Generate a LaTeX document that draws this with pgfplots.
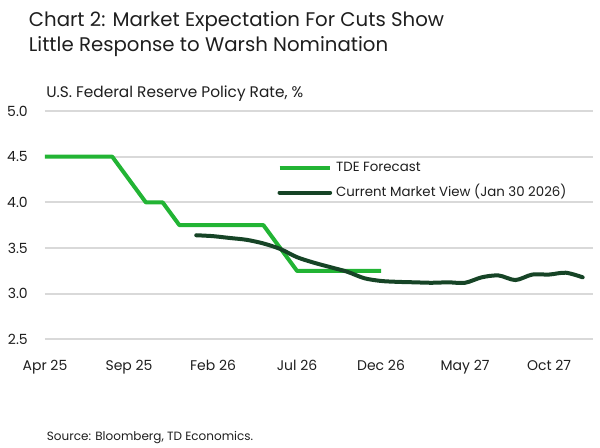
\documentclass[border=0pt]{standalone}
\usepackage{pgfplots}
\pgfplotsset{compat=1.18}
\usepackage{fontspec}
\setmainfont{Poppins}
\definecolor{tdgreen}{RGB}{34,180,52}
\definecolor{tddark}{RGB}{22,68,38}
\definecolor{gridgray}{RGB}{217,217,217}
\definecolor{txt}{RGB}{30,30,30}
\begin{document}
\begin{tikzpicture}
\useasboundingbox (0,0) rectangle (450pt,336pt);
\begin{axis}[
  at={(33.75pt,81.4pt)}, anchor=south west,
  scale only axis, width=410.8pt, height=171.4pt,
  xmin=0, xmax=32.6, ymin=2.5, ymax=5.0,
  axis line style={draw=none},
  major tick length=0pt,
  xtick={0,5,10,15,20,25,30},
  xticklabels={Apr 25,Sep 25,Feb 26,Jul 26,Dec 26,May 27,Oct 27},
  ytick={2.5,3.0,3.5,4.0,4.5,5.0},
  yticklabel={\pgfmathprintnumber[fixed,fixed zerofill,precision=1]{\tick}},
  /pgf/number format/assume math mode=true,
  ymajorgrids, grid style={gridgray, line width=1.5pt},
  tick label style={font=\fontsize{10.5}{12}\selectfont, text=txt},
  xticklabel style={anchor=base, yshift=-23.25pt, inner sep=0pt},
  yticklabel style={anchor=east, xshift=-12.75pt, inner sep=0pt},
  legend style={draw=none, fill=none, at={(axis description cs:0.424,0.696)}, anchor=west,
     font=\fontsize{10}{12}\selectfont, text=txt, inner sep=0pt, row sep=7.8pt,
     nodes={inner sep=0pt, text height=8pt, text depth=2.5pt},
     cells={anchor=west},
     /tikz/every odd column/.append style={column sep=3pt}},
  legend image code/.code={\draw[#1] (0pt,0pt) -- (38pt,0pt);},
  clip=false,
]
\addplot[tdgreen, line width=3pt, line join=round] table {
0 4.5
4 4.5
6 4.0
7 4.0
8 3.75
13 3.75
15 3.25
20 3.25
};
\addlegendentry{TDE Forecast}
\addplot[tddark, line width=3pt, line join=round, line cap=round, smooth, tension=0.5] table {
9 3.64
10 3.63
11 3.61
12 3.59
13 3.55
14 3.49
15 3.40
16 3.34
17 3.29
18 3.24
19 3.17
20 3.14
21 3.13
22 3.125
23 3.12
24 3.125
25 3.12
26 3.18
27 3.20
28 3.15
29 3.21
30 3.21
31 3.23
32 3.18
};
\addlegendentry{Current Market View (Jan 30 2026)}
\end{axis}
\node[anchor=base west, inner sep=0pt, text=txt, font=\fontsize{14.8}{18}\selectfont] at (21.5pt,316.1pt) {Chart 2: Market Expectation For Cuts Show};
\node[anchor=base west, inner sep=0pt, text=txt, font=\fontsize{14.8}{18}\selectfont] at (21.5pt,297.2pt) {Little Response to Warsh Nomination};
\node[anchor=base west, inner sep=0pt, text=txt, font=\fontsize{11.5}{14}\selectfont] at (34.5pt,263pt) {U.S. Federal Reserve Policy Rate, \%};
\node[anchor=base west, inner sep=0pt, text=txt, font=\fontsize{9}{11}\selectfont] at (35pt,5.5pt) {Source: Bloomberg, TD Economics.};
\end{tikzpicture}
\end{document}
